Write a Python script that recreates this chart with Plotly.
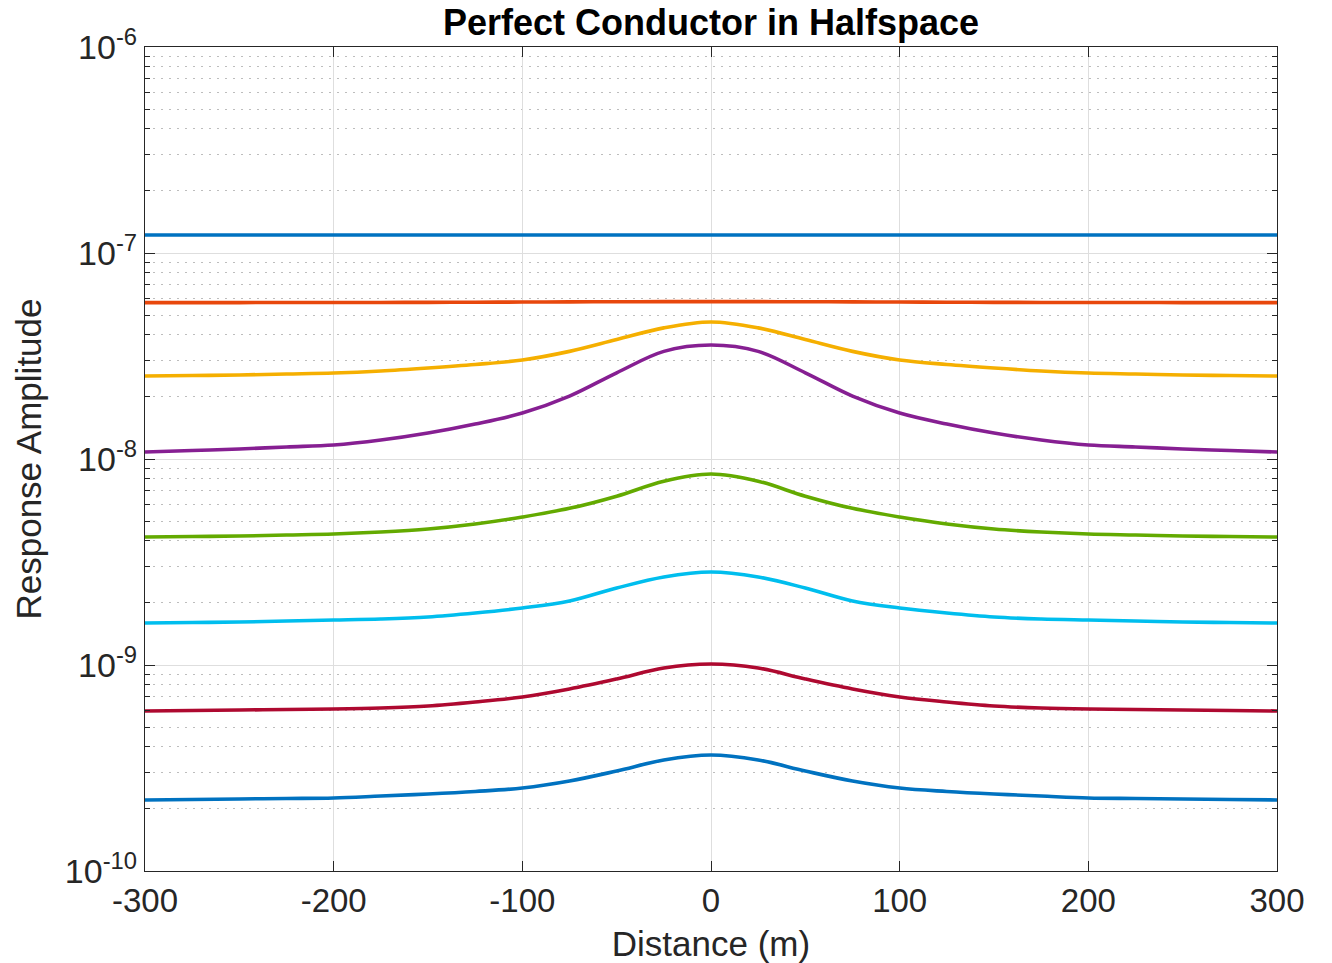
import plotly.graph_objects as go

distance = list(range(-300, 301, 25))

def sym(half):
    # half: values from -300 to 0 (step 25); mirror for positive side
    return half + half[-2::-1]

s1 = sym([1.223e-7] * 13)
s2 = sym([5.740e-8, 5.742e-8, 5.745e-8, 5.748e-8, 5.750e-8, 5.755e-8, 5.760e-8,
          5.770e-8, 5.780e-8, 5.790e-8, 5.800e-8, 5.805e-8, 5.810e-8])
s3 = sym([2.528e-8, 2.543e-8, 2.557e-8, 2.586e-8, 2.615e-8, 2.674e-8, 2.765e-8,
          2.875e-8, 3.024e-8, 3.330e-8, 3.800e-8, 4.330e-8, 4.624e-8])
s4 = sym([1.081e-8, 1.100e-8, 1.118e-8, 1.144e-8, 1.169e-8, 1.236e-8, 1.337e-8,
          1.479e-8, 1.672e-8, 2.020e-8, 2.620e-8, 3.330e-8, 3.575e-8])
s5 = sym([4.180e-9, 4.205e-9, 4.228e-9, 4.276e-9, 4.324e-9, 4.421e-9, 4.573e-9,
          4.836e-9, 5.228e-9, 5.760e-9, 6.600e-9, 7.800e-9, 8.457e-9])
s6 = sym([1.599e-9, 1.608e-9, 1.617e-9, 1.635e-9, 1.653e-9, 1.672e-9, 1.710e-9,
          1.788e-9, 1.891e-9, 2.045e-9, 2.364e-9, 2.674e-9, 2.828e-9])
s7 = sym([5.980e-10, 6.014e-10, 6.047e-10, 6.081e-10, 6.115e-10, 6.184e-10, 6.324e-10,
          6.613e-10, 6.995e-10, 7.646e-10, 8.551e-10, 9.670e-10, 1.011e-9])
s8 = sym([2.212e-10, 2.224e-10, 2.237e-10, 2.249e-10, 2.262e-10, 2.312e-10, 2.364e-10,
          2.432e-10, 2.528e-10, 2.734e-10, 3.058e-10, 3.458e-10, 3.657e-10])

series = [s1, s2, s3, s4, s5, s6, s7, s8]
colors = ["#0072C0", "#E8470C", "#F5AF00", "#861F92", "#63AA00", "#00BEEE", "#AE0930", "#0072C0"]

x_ticks = [-300, -200, -100, 0, 100, 200, 300]
y_tickvals = [1e-10, 1e-9, 1e-8, 1e-7, 1e-6]
y_ticktext = ["10<sup>-10</sup>", "10<sup>-9</sup>", "10<sup>-8</sup>", "10<sup>-7</sup>", "10<sup>-6</sup>"]
y_minor = [m * d for d in [1e-10, 1e-9, 1e-8, 1e-7] for m in range(2, 10)]

fig = go.Figure()
for ys, c in zip(series, colors):
    fig.add_trace(go.Scatter(x=distance, y=ys, mode="lines",
                             line=dict(color=c, width=3.6, shape="spline", smoothing=1.0),
                             showlegend=False, hoverinfo="skip"))

font_family = "Liberation Sans, Arial, Helvetica, sans-serif"
axis_color = "#262626"

fig.update_layout(
    width=1332, height=963,
    margin=dict(l=145, r=55, t=47, b=92, autoexpand=False),
    paper_bgcolor="white", plot_bgcolor="white",
    font=dict(family=font_family, size=33, color=axis_color),
    title=dict(text="<b>Perfect Conductor in Halfspace</b>", xref="paper", x=0.5, xanchor="center",
               y=0.977, yanchor="middle", font=dict(size=36, color="black")),
)

fig.update_xaxes(
    range=[-300, 300], tickvals=x_ticks, ticktext=[str(v) for v in x_ticks],
    ticks="inside", ticklen=10, tickwidth=1, tickcolor=axis_color,
    showline=True, linecolor=axis_color, linewidth=1.2, mirror="ticks",
    showgrid=True, gridcolor="#DEDEDE", gridwidth=1,
    zeroline=False, automargin=False,
    title=dict(text="Distance (m)", font=dict(size=35), standoff=13),
    tickfont=dict(size=33),
)

fig.update_yaxes(
    type="log", range=[-10, -6], tickvals=y_tickvals, ticktext=y_ticktext,
    ticks="inside", ticklen=10, tickwidth=1, tickcolor=axis_color,
    showline=True, linecolor=axis_color, linewidth=1.2, mirror="ticks",
    showgrid=True, gridcolor="#DEDEDE", gridwidth=1,
    zeroline=False, automargin=False,
    minor=dict(tickvals=y_minor, ticks="inside", ticklen=5, tickcolor=axis_color,
               showgrid=True, gridcolor="#BDBDBD", griddash="2px,6px", gridwidth=1),
    title=dict(text="Response Amplitude", font=dict(size=35), standoff=12),
    tickfont=dict(size=34),
)

fig.write_html("out.html")
